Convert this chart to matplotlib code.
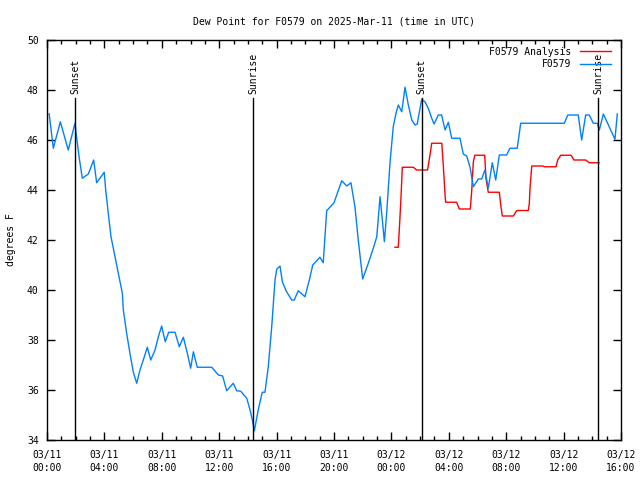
import matplotlib
matplotlib.use("Agg")
import matplotlib.pyplot as plt
from matplotlib.ticker import MultipleLocator

plt.rcParams["font.family"] = "DejaVu Sans Mono"
plt.rcParams["font.size"] = 7

# hours since 03/11 00:00 UTC
obs_hours = [0.15, 0.44, 0.93, 1.48, 1.95, 2.07, 2.25, 2.46, 2.88, 3.25, 3.30, 3.46, 3.99, 4.09,
             4.27, 4.46, 4.74, 5.02, 5.25, 5.32, 5.55, 5.78, 6.01, 6.25, 6.48, 6.71, 6.99, 7.23,
             7.53, 7.76, 7.99, 8.24, 8.48, 8.92, 9.22, 9.50, 9.78, 10.01, 10.20, 10.47, 11.48,
             11.94, 12.24, 12.52, 12.98, 13.22, 13.50, 13.92, 14.15, 14.31, 14.45, 14.72, 15.00,
             15.19, 15.42, 15.66, 15.89, 16.01, 16.24, 16.40, 16.66, 17.05, 17.23, 17.51, 17.98,
             18.28, 18.52, 19.02, 19.25, 19.49, 20.00, 20.23, 20.54, 20.89, 21.18, 21.46, 21.69,
             22.00, 22.39, 22.74, 22.98, 23.21, 23.37, 23.51, 23.67, 23.90, 24.13, 24.32, 24.48,
             24.72, 24.95, 25.18, 25.42, 25.64, 25.80, 26.11, 26.34, 26.57, 26.81, 26.97, 27.27,
             27.50, 27.74, 27.97, 28.20, 28.78, 29.01, 29.25, 29.48, 29.71, 30.06, 30.29, 30.52,
             30.75, 31.03, 31.27, 31.52, 32.03, 32.26, 32.77, 33.01, 36.05, 36.29, 37.02, 37.26,
             37.54, 37.79, 38.07, 38.35, 38.49, 38.77, 39.58, 39.74]
obs_dewpt = [47.05, 45.67, 46.73, 45.60, 46.67, 46.07, 45.27, 44.47, 44.64, 45.20, 45.00, 44.29,
             44.71, 44.00, 43.07, 42.13, 41.33, 40.53, 39.87, 39.20, 38.27, 37.47, 36.73, 36.27,
             36.80, 37.20, 37.71, 37.20, 37.60, 38.13, 38.56, 37.93, 38.31, 38.31, 37.73, 38.11,
             37.47, 36.87, 37.53, 36.91, 36.91, 36.60, 36.56, 35.97, 36.27, 35.97, 35.95, 35.67,
             35.20, 34.80, 34.37, 35.20, 35.91, 35.91, 36.93, 38.53, 40.40, 40.83, 40.96, 40.33,
             39.97, 39.60, 39.60, 39.97, 39.73, 40.40, 41.00, 41.31, 41.09, 43.17, 43.49, 43.87,
             44.37, 44.16, 44.29, 43.33, 42.00, 40.44, 41.07, 41.67, 42.13, 43.73, 42.80, 41.93,
             43.07, 45.07, 46.53, 47.07, 47.40, 47.13, 48.11, 47.40, 46.80, 46.60, 46.64, 47.63,
             47.53, 47.27, 46.87, 46.64, 47.00, 47.00, 46.40, 46.71, 46.07, 46.07, 45.44, 45.36,
             44.91, 44.13, 44.44, 44.44, 44.80, 44.07, 45.09, 44.40, 45.40, 45.40, 45.67, 45.67,
             46.67, 46.67, 47.00, 47.00, 46.00, 47.00, 47.00, 46.67, 46.67, 46.40, 47.04, 46.03,
             47.04]

ana_hours = [24.25, 24.48, 24.60, 24.67, 24.76, 25.53, 25.76, 26.52, 26.69, 26.81, 27.51, 27.62,
             27.74, 27.78, 28.55, 28.73, 29.50, 29.60, 29.71, 29.81, 30.50, 30.59, 30.75, 31.52,
             31.62, 31.73, 32.50, 32.73, 33.54, 33.61, 33.66, 33.78, 34.54, 34.66, 35.47, 35.59,
             35.80, 36.52, 36.72, 37.54, 37.79, 38.47]
ana_dewpt = [41.71, 41.71, 42.93, 43.73, 44.91, 44.91, 44.80, 44.80, 45.40, 45.87, 45.87, 44.96,
             43.80, 43.51, 43.51, 43.24, 43.24, 44.00, 45.13, 45.39, 45.39, 44.47, 43.91, 43.91,
             43.40, 42.96, 42.96, 43.18, 43.18, 43.47, 44.07, 44.96, 44.96, 44.93, 44.93, 45.20,
             45.39, 45.39, 45.20, 45.20, 45.09, 45.09]

sun_hours = [1.95, 14.38, 26.11, 38.42]
sun_labels = ["Sunset", "Sunrise", "Sunset", "Sunrise"]

tick_hours = [0, 4, 8, 12, 16, 20, 24, 28, 32, 36, 40]
tick_labels = ["03/11\n00:00", "03/11\n04:00", "03/11\n08:00", "03/11\n12:00", "03/11\n16:00",
               "03/11\n20:00", "03/12\n00:00", "03/12\n04:00", "03/12\n08:00", "03/12\n12:00",
               "03/12\n16:00"]

fig = plt.figure(figsize=(6.4, 4.8), dpi=100)
ax = fig.add_axes([47 / 640, 40 / 480, 574 / 640, 400 / 480])

ax.plot(ana_hours, ana_dewpt, color="#ff0000", lw=1.0, label="F0579 Analysis")
ax.plot(obs_hours, obs_dewpt, color="#0080ff", lw=1.0, label="F0579")

for h, lab in zip(sun_hours, sun_labels):
    ax.plot([h, h], [34, 47.68], color="black", lw=1.0)
    ax.text(h, 47.85, lab, rotation=90, ha="center", va="bottom")

ax.set_xlim(0, 40)
ax.set_ylim(34, 50)
ax.set_xticks(tick_hours)
ax.set_xticklabels(tick_labels, linespacing=1.35)
ax.xaxis.set_minor_locator(MultipleLocator(1))
ax.set_yticks(range(34, 51, 2))
ax.tick_params(which="both", direction="in", top=True, right=True, width=1.0)
ax.tick_params(which="major", length=6)
ax.tick_params(axis="x", which="major", pad=7)
ax.tick_params(axis="y", which="major", pad=6)
ax.tick_params(which="minor", length=3)
for s in ax.spines.values():
    s.set_linewidth(1.0)

ax.set_ylabel("degrees F", labelpad=8)
ax.set_title("Dew Point for F0579 on 2025-Mar-11 (time in UTC)", fontsize=7, pad=11)

ax.legend(loc="upper right", frameon=False, markerfirst=False, handlelength=3.2,
          handletextpad=0.9, labelspacing=0.25, borderaxespad=0.3, fontsize=7,
          bbox_to_anchor=(0.995, 1.0))

fig.savefig("out.png", dpi=100)
